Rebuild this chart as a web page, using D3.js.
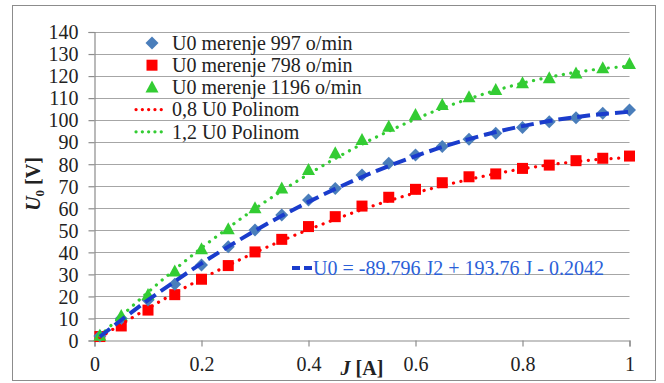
<!DOCTYPE html>
<html><head><meta charset="utf-8">
<script src="https://cdn.jsdelivr.net/npm/d3@7"></script>
<style>body{margin:0;background:#fff}svg{display:block}svg text{font-family:"Times New Roman","Liberation Serif",Tinos,serif}</style>
</head><body>
<svg id="c" width="664" height="383"></svg>
<script>
// ---- data ----
const J      = [0.01,0.05,0.1,0.15,0.2,0.25,0.3,0.35,0.4,0.45,0.5,0.55,0.6,0.65,0.7,0.75,0.8,0.85,0.9,0.95,1.0];
const u997   = [2.0,10.0,18.4,25.5,34.3,42.6,50.2,57.0,63.8,69.0,75.1,80.4,84.2,88.0,91.3,94.0,96.7,99.3,101.1,103.1,104.6];
const u798   = [1.8,6.6,13.8,20.8,27.8,34.0,40.2,45.9,51.7,56.2,61.0,65.0,68.6,71.6,74.3,75.6,78.1,79.6,81.6,82.7,83.7];
const u1196  = [2.2,11.1,20.7,31.3,41.4,50.5,60.0,69.0,77.4,85.0,91.0,97.0,102.3,106.9,110.4,113.7,116.7,119.0,121.2,123.5,125.5];
const fit997 = [1.7,9.3,18.3,26.8,35.0,42.6,49.8,56.6,62.9,68.8,74.2,79.2,83.7,87.8,91.4,94.6,97.3,99.6,101.4,102.8,103.8];
const poly08 = [1.4,7.4,14.6,21.5,28.0,34.1,39.9,45.3,50.3,55.0,59.4,63.4,67.0,70.2,73.1,75.7,77.9,79.7,81.2,82.3,83.0];
const poly12 = [2.1,11.1,21.9,32.2,42.0,51.1,59.8,67.9,75.5,82.6,89.1,95.0,100.5,105.4,109.7,113.5,116.8,119.5,121.7,123.4,124.5];
const xTicks = [0,0.2,0.4,0.6,0.8,1];
const xTickLabels = ["0","0.2","0.4","0.6","0.8","1"];
const yTicks = [0,10,20,30,40,50,60,70,80,90,100,110,120,130,140];
const legendLabels = ["U0 merenje 997 o/min","U0 merenje 798 o/min","U0 merenje 1196 o/min","0,8 U0 Polinom","1,2 U0 Polinom"];
const equation = "U0 = -89.796 J2 + 193.76 J - 0.2042";

const FONT = '"Times New Roman", "Liberation Serif", Tinos, serif';
const FS = 20;
const svg = d3.select("#c").attr("font-family",FONT);
const x = d3.scaleLinear().domain([0,1]).range([94.5,629.5]);
const y = d3.scaleLinear().domain([0,140]).range([340.5,32]);

svg.append("rect").attr("x",12.5).attr("y",5.5).attr("width",643).attr("height",375)
  .attr("fill","#fff").attr("stroke","#8c8c8c").attr("stroke-width",1);

// gridlines
svg.append("g").selectAll("line").data(yTicks.slice(1)).join("line")
  .attr("x1",x(0)).attr("x2",x(1)).attr("y1",d=>Math.round(y(d))+0.5).attr("y2",d=>Math.round(y(d))+0.5)
  .attr("stroke","#a6a6a6").attr("stroke-width",1.2);

// axes
const yAx = svg.append("g").attr("transform",`translate(${x(0)},0)`)
  .call(d3.axisLeft(y).tickValues(yTicks).tickSize(6).tickPadding(10));
const xAx = svg.append("g").attr("transform",`translate(0,${y(0)})`)
  .call(d3.axisBottom(x).tickValues(xTicks).tickFormat((d,i)=>xTickLabels[i]).tickSize(6).tickPadding(10));
[yAx,xAx].forEach(g=>{
  g.attr("font-family",null).attr("font-size",FS);
  g.select(".domain").attr("stroke","#8c8c8c").attr("stroke-width",1.2);
  g.selectAll(".tick line").attr("stroke","#8c8c8c").attr("stroke-width",1.2);
  g.selectAll("text").attr("font-size",FS).attr("fill","#222").attr("font-family",FONT);
});
yAx.selectAll("text").attr("dy","0.34em");

// axis titles
const yt = svg.append("text").attr("transform","translate(40,184) rotate(-90)").attr("font-family",FONT)
  .attr("text-anchor","middle").attr("font-size",FS).attr("font-weight","bold").attr("fill","#222");
yt.append("tspan").attr("font-style","italic").text("U");
yt.append("tspan").attr("font-size",13).attr("dy",4).text("0");
yt.append("tspan").attr("dy",-4).text(" [V]");
const xt = svg.append("text").attr("x",362).attr("y",375).attr("text-anchor","middle").attr("font-family",FONT)
  .attr("font-size",FS).attr("font-weight","bold").attr("fill","#222");
xt.append("tspan").attr("font-style","italic").text("J");
xt.append("tspan").text(" [A]");

const pts = arr => J.map((j,i)=>[x(j),y(arr[i])]);
const line = d3.line().curve(d3.curveCatmullRom.alpha(0.5));

// markers
const cRed="#ff0000", cGreen="#33cc33", cBlue="#4a7ebb", cTrend="#1a3ccc";
const gm = svg.append("g");
gm.selectAll(".sq").data(pts(u798)).join("rect")
  .attr("x",d=>d[0]-5.5).attr("y",d=>d[1]-5.5).attr("width",11).attr("height",11).attr("fill",cRed);
gm.selectAll(".di").data(pts(u997)).join("path")
  .attr("d",d=>`M${d[0]},${d[1]-6.5}L${d[0]+6.5},${d[1]}L${d[0]},${d[1]+6.5}L${d[0]-6.5},${d[1]}Z`).attr("fill",cBlue);
gm.selectAll(".tr").data(pts(u1196)).join("path")
  .attr("d",d=>`M${d[0]},${d[1]-7}L${d[0]+6.5},${d[1]+5}L${d[0]-6.5},${d[1]+5}Z`).attr("fill",cGreen);

// curves
svg.append("path").attr("d",line(pts(poly08))).attr("fill","none").attr("stroke",cRed)
  .attr("stroke-width",3.2).attr("stroke-linecap","round").attr("stroke-dasharray","0.1 7.5");
svg.append("path").attr("d",line(pts(poly12))).attr("fill","none").attr("stroke",cGreen)
  .attr("stroke-width",3.2).attr("stroke-linecap","round").attr("stroke-dasharray","0.1 7.5");
svg.append("path").attr("d",line(pts(fit997))).attr("fill","none").attr("stroke",cTrend)
  .attr("stroke-width",4).attr("stroke-dasharray","13 6");

// equation label
svg.append("line").attr("x1",292).attr("x2",313).attr("y1",268).attr("y2",268)
  .attr("stroke",cTrend).attr("stroke-width",4).attr("stroke-dasharray","8 4");
svg.append("text").attr("x",313).attr("y",275).attr("font-family",FONT).attr("font-size",FS).attr("fill","#2b5fd8").text(equation);

// legend
const lg = svg.append("g");
const rowY = i => 43 + i*22.2;
legendLabels.forEach((t,i)=>{
  const cy = rowY(i), cx = 152;
  if(i===0) lg.append("path").attr("d",`M${cx},${cy-6.5}L${cx+6.5},${cy}L${cx},${cy+6.5}L${cx-6.5},${cy}Z`).attr("fill",cBlue);
  if(i===1) lg.append("rect").attr("x",cx-5.5).attr("y",cy-5.5).attr("width",11).attr("height",11).attr("fill",cRed);
  if(i===2) lg.append("path").attr("d",`M${cx},${cy-7}L${cx+6.5},${cy+5}L${cx-6.5},${cy+5}Z`).attr("fill",cGreen);
  if(i>=3) lg.append("line").attr("x1",136).attr("x2",167).attr("y1",cy).attr("y2",cy)
      .attr("stroke",i===3?cRed:cGreen).attr("stroke-width",3.2).attr("stroke-linecap","round").attr("stroke-dasharray","0.1 6.2");
  lg.append("text").attr("x",172).attr("y",cy).attr("dy","0.34em").attr("font-family",FONT).attr("font-size",FS).attr("fill","#222").text(t);
});
</script>
</body></html>
